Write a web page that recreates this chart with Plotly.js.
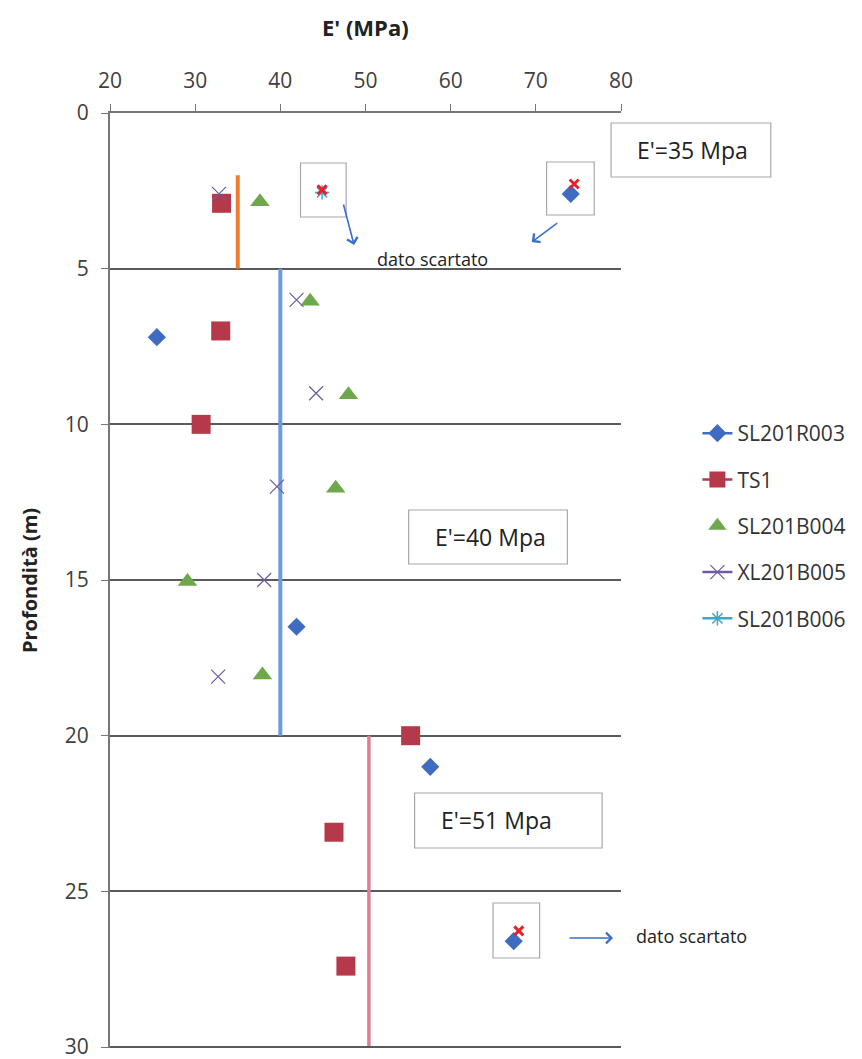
<!DOCTYPE html>
<html>
<head>
<meta charset="utf-8">
<script src="https://cdn.plot.ly/plotly-3.0.1.min.js"></script>
<style>html,body{margin:0;padding:0;background:#fff;}</style>
</head>
<body>
<div id="chart" style="width:862px;height:1059px;"></div>
<script>
// ---- data ----
const seriesNames = ["SL201R003", "TS1", "SL201B004", "XL201B005", "SL201B006"];

const r003_E = [74.1, 25.5, 41.9, 57.6, 67.4];
const r003_z = [2.6, 7.2, 16.5, 21.0, 26.6];

const ts1_E = [33.1, 33.0, 30.7, 55.3, 46.3, 47.7];
const ts1_z = [2.9, 7.0, 10.0, 20.0, 23.1, 27.4];

const b004_E = [37.6, 43.5, 48.0, 46.5, 29.1, 37.9];
const b004_z = [2.85, 6.05, 9.05, 12.05, 15.05, 18.05];

const b005_E = [32.8, 41.9, 44.2, 39.6, 38.1, 32.7];
const b005_z = [2.6, 6.0, 9.0, 12.0, 15.0, 18.1];

const b006_E = [44.9];
const b006_z = [2.55];

// discarded data marks (red crosses)
const discard_E = [44.9, 74.5, 68.0];
const discard_z = [2.47, 2.28, 26.27];

// reference design values per depth interval
const design_E = [35, 40, 50.4];
const design_top = [2, 5, 20];
const design_bot = [5, 20, 30];
const design_labels = ["E'=35 Mpa", "E'=40 Mpa", "E'=51 Mpa"];
const design_colors = ["#ee7a2f", "#6b9be0", "#dc7f93"];

const xTickVals = [20, 30, 40, 50, 60, 70, 80];
const yTickVals = [0, 5, 10, 15, 20, 25, 30];
const xTitle = "E' (MPa)";
const yTitle = "Profondità (m)";

// helper: separate points with gaps so no connecting line is drawn,
// while the legend still shows the line sample
function gapped(a) { return a.flatMap((v, i) => i ? [null, v] : [v]); }

const traces = [];
// design lines
design_E.forEach((e, i) => {
  traces.push({
    x: [e, e], y: [design_top[i], design_bot[i]], mode: 'lines',
    line: {color: design_colors[i], width: i === 2 ? 3.5 : 4},
    showlegend: false, hoverinfo: 'skip'
  });
});

traces.push({
  name: seriesNames[0], legendgroup: 'a',
  x: gapped(r003_E), y: gapped(r003_z), mode: 'lines+markers', connectgaps: false,
  line: {color: '#3f6cc0', width: 2.5},
  marker: {symbol: 'diamond', size: 14, color: '#3f6cc0'}
});
traces.push({
  name: seriesNames[1], legendgroup: 'b',
  x: gapped(ts1_E), y: gapped(ts1_z), mode: 'lines+markers', connectgaps: false,
  line: {color: '#b5394a', width: 2.5},
  marker: {symbol: 'square', size: 19, color: '#b5394a'}
});
traces.push({
  name: seriesNames[2], legendgroup: 'c',
  x: b004_E, y: b004_z, mode: 'markers',
  marker: {symbol: 'triangle-up', size: 17, color: '#6fa84c'}
});
traces.push({
  name: seriesNames[3], legendgroup: 'd',
  x: gapped(b005_E), y: gapped(b005_z), mode: 'lines+markers', connectgaps: false,
  line: {color: '#6f5b9e', width: 2.5},
  marker: {symbol: 'x-thin-open', size: 14, color: '#6f5b9e', line: {color: '#6f5b9e', width: 1.2}}
});
traces.push({
  name: seriesNames[4], legendgroup: 'e',
  x: gapped(b006_E), y: gapped(b006_z), mode: 'lines+markers', connectgaps: false,
  line: {color: '#3fa6c4', width: 2.5},
  marker: {symbol: 'asterisk-open', size: 12, color: '#3fa6c4', line: {color: '#3fa6c4', width: 1.5}}
});
traces.push({
  x: discard_E, y: discard_z, mode: 'markers', showlegend: false, hoverinfo: 'skip',
  marker: {symbol: 'x-thin-open', size: 9, color: '#e5222c', line: {color: '#e5222c', width: 3}}
});

// pixel -> paper helpers for the annotation boxes
const L = 110, R = 625, T = 113, B = 1048;
const xp = px => (px - L) / (R - L);
const yp = py => 1 - (py - T) / (B - T);

const boxes = [
  [615, 776, 123, 177], [411, 571, 510, 564], [417, 606, 793, 848],   // design labels
  [302, 348, 163, 217], [550, 598, 162, 215], [496, 543, 903, 958]    // discarded boxes
];
const shapes = boxes.map(b => ({
  type: 'rect', xref: 'paper', yref: 'paper',
  x0: xp(b[0]), x1: xp(b[1]), y0: yp(b[3]), y1: yp(b[2]),
  line: {color: '#a8a8a8', width: 1.2}, fillcolor: 'rgba(0,0,0,0)', layer: 'above'
}));
// bottom grid line at 30 m
shapes.push({type: 'line', xref: 'paper', yref: 'y', x0: 0, x1: 1, y0: 30, y1: 30,
  line: {color: '#5a5a5a', width: 2}});

const labelCenters = [[697, 150], [493, 537], [500, 820]];
const annotations = design_labels.map((t, i) => ({
  text: t, xref: 'paper', yref: 'paper', x: xp(labelCenters[i][0]), y: yp(labelCenters[i][1]),
  showarrow: false, font: {size: 23, color: '#222'}, xanchor: 'center', yanchor: 'middle'
}));
annotations.push(
  // x-axis title (placed above the top tick labels)
  {text: '<b>' + xTitle + '</b>', xref: 'paper', yref: 'paper', x: 0.5, y: yp(27), showarrow: false,
   xanchor: 'center', yanchor: 'middle', font: {size: 22, color: '#222'}},
  {text: 'dato scartato', xref: 'paper', yref: 'paper', x: xp(435), y: yp(259), showarrow: false,
   xanchor: 'center', yanchor: 'middle', font: {size: 18, color: '#222'}},
  {text: 'dato scartato', xref: 'paper', yref: 'paper', x: xp(696), y: yp(936), showarrow: false,
   xanchor: 'center', yanchor: 'middle', font: {size: 18, color: '#222'}},
  {text: '', xref: 'paper', yref: 'paper', x: xp(356), y: yp(245), ax: -11, ay: -42,
   showarrow: true, arrowhead: 4, arrowsize: 1.3, arrowwidth: 1.6, arrowcolor: '#3b6fc9'},
  {text: '', xref: 'paper', yref: 'paper', x: xp(535), y: yp(242), ax: 27, ay: -20,
   showarrow: true, arrowhead: 4, arrowsize: 1.3, arrowwidth: 1.6, arrowcolor: '#3b6fc9'},
  {text: '', xref: 'paper', yref: 'paper', x: xp(617), y: yp(938), ax: -45, ay: 0,
   showarrow: true, arrowhead: 4, arrowsize: 1.3, arrowwidth: 1.6, arrowcolor: '#3b6fc9'}
);

const layout = {
  width: 862, height: 1059,
  margin: {l: 110, r: 237, t: 113, b: 11},
  paper_bgcolor: '#ffffff', plot_bgcolor: '#ffffff',
  font: {family: 'Open Sans, sans-serif', color: '#333'},
  showlegend: true,
  xaxis: {
    side: 'top', range: [20, 80], tickvals: xTickVals, showgrid: false, zeroline: false,
    showline: true, linecolor: '#777', linewidth: 2, ticks: 'outside', ticklen: 7,
    tickcolor: '#777', tickfont: {size: 21, color: '#404040'}, ticklabelstandoff: 8
  },
  yaxis: {
    range: [30.03, 0], tickvals: yTickVals, showgrid: true, gridcolor: '#5a5a5a', gridwidth: 2,
    zeroline: false, showline: true, linecolor: '#777', linewidth: 2, ticks: 'outside',
    ticklen: 7, tickcolor: '#777', tickfont: {size: 21, color: '#404040'}, ticklabelstandoff: 8,
    ticklabeloverflow: 'allow',
    title: {text: yTitle, font: {size: 20, color: '#222', weight: 'bold'}, standoff: 22}
  },
  legend: {
    x: xp(702), xanchor: 'left', y: yp(413), yanchor: 'top', traceorder: 'grouped',
    tracegroupgap: 16, font: {size: 21, color: '#333'}, bgcolor: 'rgba(0,0,0,0)'
  },
  shapes: shapes,
  annotations: annotations
};

Plotly.newPlot('chart', traces, layout, {displayModeBar: false, staticPlot: true});
</script>
</body>
</html>
